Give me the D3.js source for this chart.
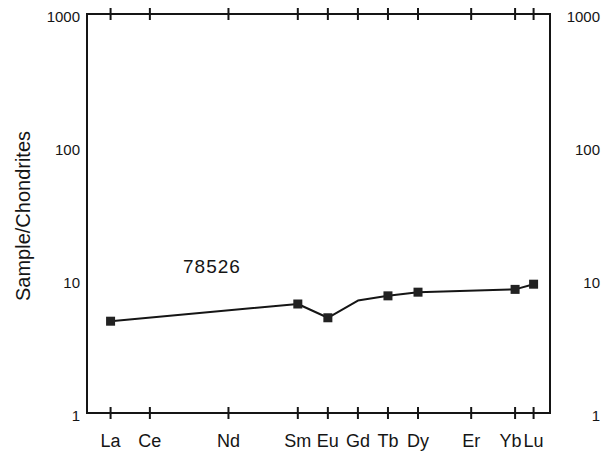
<!DOCTYPE html>
<html>
<head>
<meta charset="utf-8">
<script src="https://cdn.jsdelivr.net/npm/d3@7"></script>
<style>
  html, body { margin: 0; padding: 0; background: #fff; }
  svg { display: block; font-family: "Liberation Sans", Arial, Helvetica, sans-serif; }
</style>
</head>
<body>
<svg id="chart" width="610" height="453"></svg>
<script>
// REE axis: elements placed by ionic radius (Å)
const elements = ["La", "Ce", "Nd", "Sm", "Eu", "Gd", "Tb", "Dy", "Er", "Yb", "Lu"];
const ionicRadius = [1.160, 1.143, 1.109, 1.079, 1.066, 1.053, 1.040, 1.027, 1.004, 0.985, 0.977];

// Sample 78526, chondrite-normalised
const sampleName = "78526";
const sampleElements = ["La", "Sm", "Eu", "Gd", "Tb", "Dy", "Yb", "Lu"];
const sampleValues = [4.9, 6.6, 5.2, 7.0, 7.6, 8.1, 8.5, 9.3];
const sampleMarked = [true, true, true, false, true, true, true, true];

const yTicks = [1, 10, 100, 1000];
const yTitle = "Sample/Chondrites";

(function () {
const svg = d3.select("#chart");
const pLeft = 87, pRight = 550, pTop = 14, pBottom = 413;
const ink = "#151515";

const x = d3.scaleLinear().domain([1.1702, 0.9699]).range([pLeft, pRight]);
const y = d3.scaleLog().domain([1, 1000]).range([pBottom, pTop]);
const radiusOf = Object.fromEntries(elements.map((e, i) => [e, ionicRadius[i]]));

// frame
svg.append("rect")
  .attr("x", pLeft).attr("y", pTop)
  .attr("width", pRight - pLeft).attr("height", pBottom - pTop)
  .attr("fill", "none").attr("stroke", ink).attr("stroke-width", 2);

// cross ticks top and bottom
const tickG = svg.append("g").attr("stroke", ink).attr("stroke-width", 2);
[pTop, pBottom].forEach(yy => {
  tickG.selectAll(null).data(ionicRadius).enter().append("line")
    .attr("x1", d => x(d)).attr("x2", d => x(d))
    .attr("y1", yy - 6).attr("y2", yy + 6);
});

// x labels (nudge apart where neighbours would collide)
const xl = svg.append("g").selectAll("text").data(elements).enter().append("text")
  .attr("x", (d, i) => x(ionicRadius[i]))
  .attr("y", 447)
  .attr("text-anchor", "middle")
  .attr("font-size", 18)
  .attr("fill", ink)
  .text(d => d);
const nodes = xl.nodes();
for (let i = nodes.length - 1; i > 0; i--) {
  const a = nodes[i - 1], b = nodes[i];
  const ab = a.getBBox(), bb = b.getBBox();
  const overlap = ab.x + ab.width + 2 - bb.x;
  if (overlap > 0) a.setAttribute("x", +a.getAttribute("x") - overlap);
}

// y labels left and right
const yLab = svg.append("g").attr("font-size", 15).attr("fill", ink);
yLab.selectAll(".yl").data(yTicks).enter().append("text")
  .attr("x", 80).attr("y", d => y(d) + 8)
  .attr("text-anchor", "end")
  .text(d => d);
yLab.selectAll(".yr").data(yTicks).enter().append("text")
  .attr("x", 600).attr("y", d => y(d) + 8)
  .attr("text-anchor", "end")
  .text(d => d);

// y title
svg.append("text")
  .attr("transform", "translate(30,216) rotate(-90)")
  .attr("text-anchor", "middle")
  .attr("font-size", 20)
  .attr("fill", ink)
  .text(yTitle);

// sample line
const pts = sampleElements.map((e, i) => ({ e, r: radiusOf[e], v: sampleValues[i], m: sampleMarked[i] }));
svg.append("path")
  .datum(pts)
  .attr("fill", "none")
  .attr("stroke", ink)
  .attr("stroke-width", 2)
  .attr("stroke-linejoin", "round")
  .attr("d", d3.line().x(d => x(d.r)).y(d => y(d.v)));

svg.append("g").selectAll("rect").data(pts.filter(d => d.m)).enter().append("rect")
  .attr("x", d => x(d.r) - 4.5).attr("y", d => y(d.v) - 4.5)
  .attr("width", 9).attr("height", 9)
  .attr("fill", "#222");

// sample label
svg.append("text")
  .attr("x", 183).attr("y", 273)
  .attr("font-size", 19)
  .attr("letter-spacing", 1)
  .attr("fill", ink)
  .text(sampleName);
})();
</script>
</body>
</html>
